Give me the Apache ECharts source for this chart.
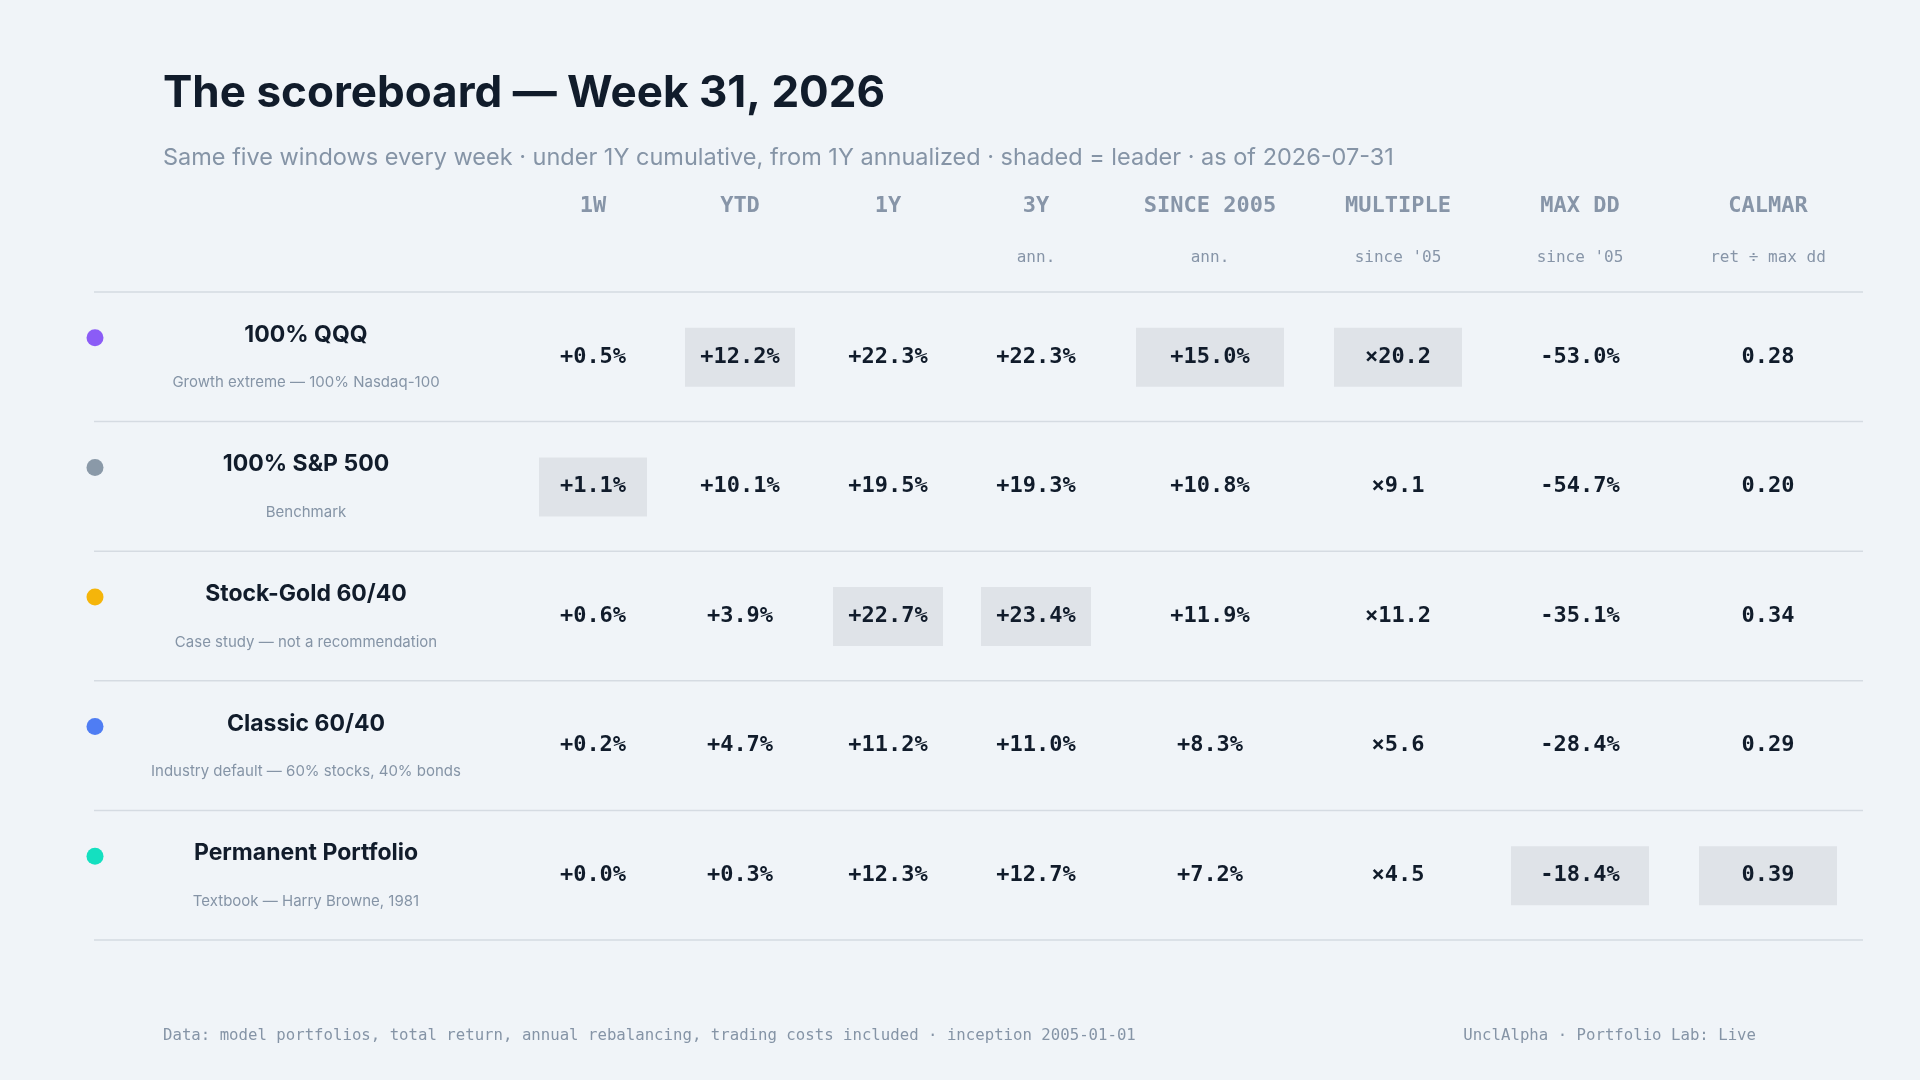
<!DOCTYPE html>
<html><head><meta charset="utf-8">
<script src="https://cdn.jsdelivr.net/npm/echarts@6/dist/echarts.min.js"></script>
<style>html,body{margin:0;background:#f0f4f8}#c{width:1920px;height:1080px}</style>
</head><body><div id="c"></div>
<script>
// table data
var columns = ['1W', 'YTD', '1Y', '3Y', 'SINCE 2005', 'MULTIPLE', 'MAX DD', 'CALMAR'];
var subHeads = ['', '', '', 'ann.', 'ann.', "since '05", "since '05", 'ret ÷ max dd'];
var portfolios = ['100% QQQ', '100% S&P 500', 'Stock-Gold 60/40', 'Classic 60/40', 'Permanent Portfolio'];
var descriptions = ['Growth extreme — 100% Nasdaq-100', 'Benchmark', 'Case study — not a recommendation',
  'Industry default — 60% stocks, 40% bonds', 'Textbook — Harry Browne, 1981'];
var dotColors = ['#8b5cf6', '#8a99a8', '#f5b50a', '#4f7df3', '#14e0c0'];
var values = [
  ['+0.5%', '+12.2%', '+22.3%', '+22.3%', '+15.0%', '×20.2', '-53.0%', '0.28'],
  ['+1.1%', '+10.1%', '+19.5%', '+19.3%', '+10.8%', '×9.1', '-54.7%', '0.20'],
  ['+0.6%', '+3.9%', '+22.7%', '+23.4%', '+11.9%', '×11.2', '-35.1%', '0.34'],
  ['+0.2%', '+4.7%', '+11.2%', '+11.0%', '+8.3%', '×5.6', '-28.4%', '0.29'],
  ['+0.0%', '+0.3%', '+12.3%', '+12.7%', '+7.2%', '×4.5', '-18.4%', '0.39']
];
// leader row index for each column
var leaders = [1, 0, 2, 2, 0, 0, 4, 4];

// layout
var colX = [593, 740, 888, 1036, 1210, 1398, 1580, 1768];
var boxW = [108, 110, 110, 110, 148, 128, 138, 138];
var rowTop = 292, rowH = 129.6;
var mono = '"DejaVu Sans Mono", monospace';
var sans = 'Inter, "Noto Sans", sans-serif';

var cells = [];
for (var r = 0; r < portfolios.length; r++) {
  for (var c = 0; c < columns.length; c++) {
    cells.push([colX[c], rowTop + rowH * (r + 0.5), values[r][c], leaders[c] === r ? 1 : 0, c]);
  }
}
var rowData = portfolios.map(function (p, i) { return [306, rowTop + rowH * (i + 0.5), i]; });
var lineData = [];
for (var i = 0; i <= portfolios.length; i++) lineData.push([94, rowTop + rowH * i]);

var chart = echarts.init(document.getElementById('c'));
chart.setOption({
  backgroundColor: '#f0f4f8',
  animation: false,
  grid: { left: 0, right: 0, top: 0, bottom: 0 },
  xAxis: { type: 'value', min: 0, max: 1920, show: false },
  yAxis: { type: 'value', min: 0, max: 1080, inverse: true, show: false },
  graphic: [
    { type: 'text', left: 163, top: 72, style: { text: 'The scoreboard — Week 31, 2026', font: 'bold 44px ' + sans, fill: '#111c2b' } },
    { type: 'text', left: 163, top: 146, style: { text: 'Same five windows every week · under 1Y cumulative, from 1Y annualized · shaded = leader · as of 2026-07-31', font: '23.5px ' + sans, fill: '#8594a6' } },
    { type: 'text', left: 163, top: 1028, style: { text: 'Data: model portfolios, total return, annual rebalancing, trading costs included · inception 2005-01-01', font: '15.7px ' + mono, fill: '#8594a6' } },
    { type: 'text', right: 164, top: 1028, style: { text: 'UnclAlpha · Portfolio Lab: Live', font: '15.7px ' + mono, fill: '#8594a6', align: 'right' } }
  ].concat(columns.map(function (h, c) {
    return { type: 'group', children: [
      { type: 'text', x: colX[c], y: 206, style: { text: h, font: 'bold 22px ' + mono, fill: '#8795a8', align: 'center', verticalAlign: 'middle' } },
      { type: 'text', x: colX[c], y: 258, style: { text: subHeads[c], font: '16px ' + mono, fill: '#8795a8', align: 'center', verticalAlign: 'middle' } }
    ] };
  })),
  series: [
    {
      type: 'custom', data: lineData,
      renderItem: function (params, api) {
        var p = api.coord([api.value(0), api.value(1)]);
        var q = api.coord([1863, api.value(1)]);
        return { type: 'line', shape: { x1: p[0], y1: p[1], x2: q[0], y2: q[1] }, style: { stroke: '#d5dbe2', lineWidth: 1.5 } };
      }
    },
    {
      type: 'custom', data: rowData,
      renderItem: function (params, api) {
        var p = api.coord([api.value(0), api.value(1)]);
        var i = api.value(2);
        return { type: 'group', children: [
          { type: 'circle', shape: { cx: 95, cy: p[1] - 19, r: 8.5 }, style: { fill: dotColors[i] } },
          { type: 'text', x: p[0], y: p[1] - 22, style: { text: portfolios[i], font: 'bold 23px ' + sans, fill: '#111c2b', align: 'center', verticalAlign: 'middle' } },
          { type: 'text', x: p[0], y: p[1] + 26, style: { text: descriptions[i], font: '15px ' + sans, fill: '#8594a6', align: 'center', verticalAlign: 'middle' } }
        ] };
      }
    },
    {
      type: 'custom', data: cells,
      renderItem: function (params, api) {
        var p = api.coord([api.value(0), api.value(1)]);
        var c = api.value(4);
        var kids = [];
        if (api.value(3)) kids.push({ type: 'rect', shape: { x: p[0] - boxW[c] / 2, y: p[1] - 29, width: boxW[c], height: 59 }, style: { fill: '#dfe3e8' } });
        kids.push({ type: 'text', x: p[0], y: p[1], style: { text: cells[params.dataIndex][2], font: 'bold 22px ' + mono, fill: '#111c2b', align: 'center', verticalAlign: 'middle' } });
        return { type: 'group', children: kids };
      }
    }
  ]
});
</script></body></html>
